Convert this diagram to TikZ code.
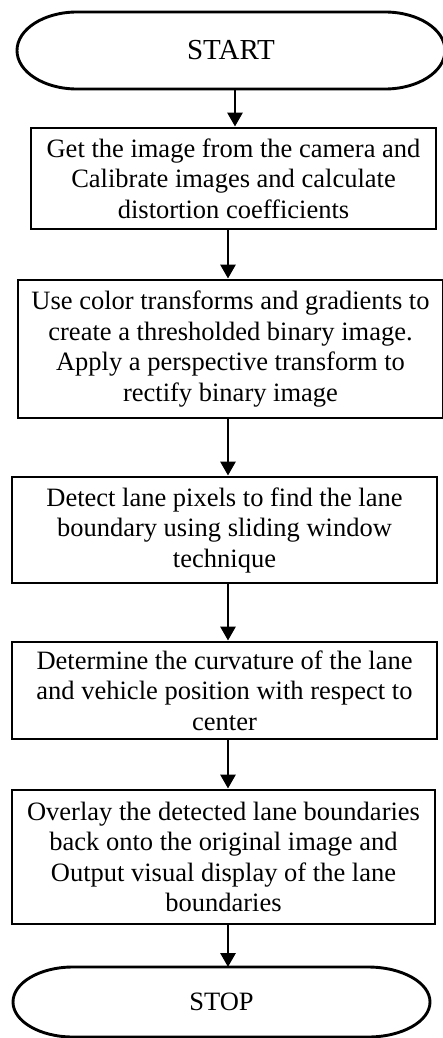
\documentclass[tikz,border=0pt]{standalone}
\usepackage{fontspec}
\setmainfont{Liberation Serif}
\usetikzlibrary{positioning, arrows.meta}

\begin{document}
\begin{tikzpicture}[
        x=1pt, y=1pt,
        box/.style={draw, rectangle, line width=2.9pt, align=center, inner sep=0pt, font=\fontsize{26.5}{30.5}\selectfont},
        term/.style={rectangle, outer sep=0pt, align=center, font=\fontsize{26.5}{30.5}\selectfont},
        oval/.style={line width=2.9pt},
        arrow/.style={-{Triangle[length=14pt, width=15pt]}, line width=2.9pt}
    ]
    \useasboundingbox (0,0) rectangle (443,-1038);

    % Define the blocks
    \node[term, minimum width=428pt, minimum height=77pt, font=\fontsize{29}{33}\selectfont] (start) at (231,-50.5) {START};
    \node[box, minimum width=405pt, minimum height=101pt] (A) at (233.5,-178.5) {Get the image from the camera and\\Calibrate images and calculate\\distortion coefficients};
    \node[box, minimum width=425pt, minimum height=138pt] (B) at (230.5,-349) {Use color transforms and gradients to\\create a thresholded binary image.\\Apply a perspective transform to\\rectify binary image};
    \node[box, minimum width=425pt, minimum height=106pt] (C) at (224.5,-530) {Detect lane pixels to find the lane\\boundary using sliding window\\technique};
    \node[box, minimum width=425pt, minimum height=97pt] (D) at (224.5,-690.5) {Determine the curvature of the lane\\and vehicle position with respect to\\center};
    \node[box, minimum width=423pt, minimum height=134pt] (E) at (223.5,-857) {Overlay the detected lane boundaries\\back onto the original image and\\Output visual display of the lane\\boundaries};
    \node[term, minimum width=417pt, minimum height=70pt] (stop) at (221.5,-1002) {STOP};

    % Outline of the terminals
    \draw[oval] ([xshift=60pt]start.north west) -- ([xshift=-60pt]start.north east)
        arc[start angle=90, end angle=-90, x radius=60pt, y radius=38.5pt]
        -- ([xshift=60pt]start.south west)
        arc[start angle=270, end angle=90, x radius=60pt, y radius=38.5pt] -- cycle;
    \draw[oval] ([xshift=60pt]stop.north west) -- ([xshift=-62pt]stop.north east)
        arc[start angle=90, end angle=-90, x radius=62pt, y radius=35pt]
        -- ([xshift=60pt]stop.south west)
        arc[start angle=270, end angle=90, x radius=60pt, y radius=35pt] -- cycle;

    % Draw the connecting arrows
    \coordinate (ax1) at (235,0);
    \coordinate (ax) at (228,0);
    \draw[arrow] (start.south -| ax1) -- (A.north -| ax1);
    \draw[arrow] (A.south -| ax) -- (B.north -| ax);
    \draw[arrow] (B.south -| ax) -- (C.north -| ax);
    \draw[arrow] (C.south -| ax) -- (D.north -| ax);
    \draw[arrow] (D.south -| ax) -- (E.north -| ax);
    \draw[arrow] (E.south -| ax) -- (stop.north -| ax);

\end{tikzpicture}
\end{document}
